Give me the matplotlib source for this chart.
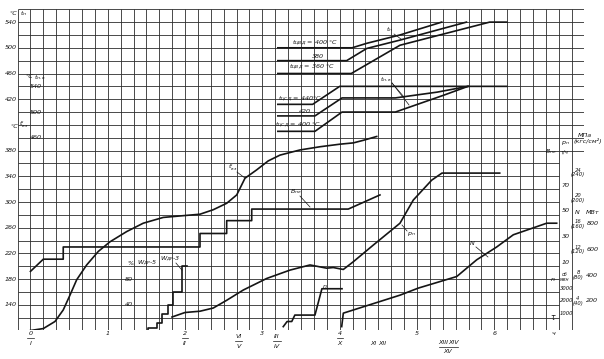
import matplotlib
matplotlib.use("Agg")
import matplotlib.pyplot as plt

plt.rcParams["font.family"] = ["DejaVu Sans"]
plt.rcParams["mathtext.fontset"] = "dejavusans"

# ---- values, time in hours ----
# t'вз, °C (main left scale)
tvz_h = [0, 0.166, 0.317, 0.424, 0.511, 0.598, 0.727, 0.877, 1.028, 1.245, 1.459,
         1.718, 2.193, 2.365, 2.538, 2.668, 2.775, 2.926, 3.076, 3.228, 3.486,
         3.745, 4.004, 4.176, 4.305, 4.479]
tvz = [100, 103, 114, 132, 155, 179, 202, 223, 238, 254, 267,
       276, 281, 288, 298, 311, 337, 350, 364, 373, 381,
       386, 390, 392, 396, 402]

# t_п, °C, for t_ЦВД = 400 / 380 / 360 °C
tp1_h = [3.20, 4.16, 4.35, 4.78, 5.32]
tp1 = [500, 500, 507, 520, 540]
tp2_h = [3.20, 4.09, 4.35, 4.78, 5.64]
tp2 = [480, 480, 499, 512, 540]
tp3_h = [3.20, 4.15, 4.78, 5.94, 6.16]
tp3 = [460, 460, 504, 540, 540]

# t_п.в, °C, for t_ЦСД = 440 / 420 / 400 °C
tpv1_h = [3.20, 3.65, 4.00, 6.16]
tpv1 = [512, 512, 540, 540]
tpv2_h = [3.20, 3.68, 4.03, 4.72, 5.26, 5.66]
tpv2 = [494, 494, 522, 522, 531, 540]
tpv3_h = [3.20, 3.68, 4.03, 4.72, 5.34, 5.66]
tpv3 = [470, 470, 500, 500, 526, 540]

# B_пе, t/h
bpe_h = [0, 0.166, 0.424, 0.424, 2.193, 2.193, 2.538, 2.538, 2.862, 2.862, 4.111, 4.521]
bpe = [3, 12.5, 12.5, 22, 22, 32.5, 32.5, 42.5, 42.5, 51.5, 51.5, 62.5]

# p_п, MPa
pp_h = [1.831, 1.999, 2.193, 2.365, 2.538, 2.753, 3.056, 3.357, 3.616, 3.703,
        3.832, 3.917, 4.047, 4.176, 4.435, 4.780, 4.952, 5.19, 5.323, 6.07]
pp = [1.5, 2.2, 2.4, 2.9, 4.1, 5.7, 7.5, 8.8, 9.6, 9.4,
      9.1, 9.2, 8.9, 10.1, 12.7, 16.1, 19.7, 22.8, 23.9, 23.9]

# N, MW
nw_h = [4.026, 4.047, 4.780, 5.017, 5.514, 5.772, 6.031, 6.246, 6.678, 6.807]
nw = [0, 105, 245, 300, 390, 520, 620, 715, 805, 805]

# n, rpm
rpm_h = [3.27, 3.32, 3.38, 3.42, 3.68, 3.77, 4.03]
rpm = [0, 400, 400, 900, 900, 2950, 2950]

# W_ДР, %
wdr_h = [1.524, 1.524, 1.633, 1.697, 1.783, 1.847, 1.956, 2.02]
wdr = [0, 4, 11, 26, 40, 60, 100, 100]

# axis tick labels
tvz_ticks = [140, 180, 220, 260, 300, 340, 380]
tp_ticks = [420, 460, 500, 540]
tpv_ticks = [460, 500, 540]
bpe_ticks = [10, 30, 50, 70]
pp_ticks = [4, 8, 12, 16, 20, 24]
nw_ticks = [200, 400, 600, 800]
rpm_ticks = [1000, 2000, 3000]
pct_ticks = [40, 80]
hours = [0, 1, 2, 3, 4, 5, 6]


# secondary scales mapped onto the main t'вз scale
def from_tp(v):
    return v + 40


def from_tpv(v):
    return v - 60


def from_bpe(v):
    return 186 + 2 * v


def from_pp(v):
    return 106 + 10 * v


def from_nw(v):
    return 106 + v / 5


def from_rpm(v):
    return 106 + v / 50


def from_pct(v):
    return 100 + v


fig = plt.figure(figsize=(6.04, 3.59), dpi=100)
ax = fig.add_axes([0.0291, 0.0794, 0.9386, 0.8948])
ax.set_xlim(-1 / 6, 43 / 6)
ax.set_ylim(100, 600)
ax.axis("off")

ink = "#151515"
gcol = "#2c2c2c"

# grid: 10 min x 20 °C
for k in range(-1, 44):
    ax.vlines(k / 6, 100, 600, color=gcol, lw=0.6)
for j in range(26):
    T = 100 + 20 * j
    ax.hlines(T, -1 / 6, 43 / 6 if T >= 380 else 41 / 6, color=gcol, lw=0.6)

lw = 1.2
ax.plot(tvz_h, tvz, color=ink, lw=lw)
for hh, vv in [(tp1_h, tp1), (tp2_h, tp2), (tp3_h, tp3)]:
    ax.plot(hh, [from_tp(v) for v in vv], color=ink, lw=lw)
for hh, vv in [(tpv1_h, tpv1), (tpv2_h, tpv2), (tpv3_h, tpv3)]:
    ax.plot(hh, [from_tpv(v) for v in vv], color=ink, lw=lw)
ax.plot(bpe_h, [from_bpe(v) for v in bpe], color=ink, lw=lw)
ax.plot(pp_h, [from_pp(v) for v in pp], color=ink, lw=lw)
ax.plot(nw_h, [from_nw(v) for v in nw], color=ink, lw=lw)
ax.plot(rpm_h, [from_rpm(v) for v in rpm], color=ink, lw=lw)
ax.step(wdr_h, [from_pct(v) for v in wdr], where="post", color=ink, lw=lw)

fs = 4.6
kw = dict(fontsize=fs, style="italic", color=ink, clip_on=False)

# left scales
for v in tvz_ticks:
    ax.text(-0.175, v, str(v), ha="right", va="center", **kw)
for v in tp_ticks:
    ax.text(-0.175, from_tp(v), str(v), ha="right", va="center", **kw)
for v in tpv_ticks:
    ax.text(0.15, from_tpv(v), str(v), ha="right", va="center", **kw)
ax.text(-0.22, 594, "°C", ha="center", va="center", **kw)
ax.text(-0.09, 594, "$t_п$", ha="center", va="center", **kw)
ax.text(-0.013, 495, "°C", ha="center", va="center", **kw)
ax.text(0.12, 493, "$t_{п.в}$", ha="center", va="center", **kw)
ax.text(-0.215, 417, "°C", ha="center", va="center", **kw)
ax.text(-0.085, 420, "$t^{\\prime}_{вз}$", ha="center", va="center", **kw)

# time axis
for hr in hours:
    ax.text(hr, 95.5, str(hr), ha="center", va="center", **kw)
for hr, rn in [(0, "I"), (2, "II"), (4, "X")]:
    ax.plot([hr - 0.04, hr + 0.04], [88, 88], color=ink, lw=0.5, clip_on=False)
    ax.text(hr, 80.5, rn, ha="center", va="center", **kw)
for hr, top, bot in [(2.69, "VI", "V"), (3.19, "III", "IV")]:
    ax.text(hr, 91, top, ha="center", va="center", **kw)
    ax.plot([hr - 0.05, hr + 0.05], [83, 83], color=ink, lw=0.5, clip_on=False)
    ax.text(hr, 75, bot, ha="center", va="center", **kw)
ax.text(4.43, 80.5, "XI", ha="center", va="center", **kw)
ax.text(4.55, 80.5, "XII", ha="center", va="center", **kw)
ax.text(5.34, 81, "XIII", ha="center", va="center", **kw)
ax.text(5.47, 81, "XIV", ha="center", va="center", **kw)
ax.plot([5.28, 5.53], [75, 75], color=ink, lw=0.5, clip_on=False)
ax.text(5.40, 68, "XV", ha="center", va="center", **kw)
ax.text(6.76, 96, "ч", ha="center", va="center", **kw)
ax.text(6.76, 119.5, "τ", ha="center", va="center", fontsize=5.5, style="italic", color=ink)

# right scales
for v in bpe_ticks:
    ax.text(6.87, from_bpe(v), str(v), ha="left", va="center", **kw)
for v in pp_ticks:
    ax.text(7.083, from_pp(v), "%d\n(%d)" % (v, v * 10), ha="center", va="center",
            linespacing=0.95, fontsize=3.8, style="italic", color=ink)
for v in nw_ticks:
    ax.text(7.19, from_nw(v), str(v), ha="left", va="center", **kw)
for v in rpm_ticks:
    ax.text(6.85, from_rpm(v), str(v), ha="left", va="center",
            fontsize=3.8, style="italic", color=ink)
ax.text(6.73, 378, "$B_{пе}$", ha="center", va="center", **kw)
ax.text(6.915, 378, "т/ч", ha="center", va="center", fontsize=3.8, style="italic", color=ink)
ax.text(6.915, 392, "$p_п$", ha="center", va="center", **kw)
ax.text(7.17, 403, "МПа", ha="center", va="center", **kw)
ax.text(7.21, 395, "(кгс/см²)", ha="center", va="center", **kw)
ax.text(7.07, 284, "N", ha="center", va="center", **kw)
ax.text(7.19, 284, "МВт", ha="left", va="center", **kw)
ax.text(6.76, 180, "n", ha="center", va="center", **kw)
ax.text(6.915, 183, "об\nмин", ha="center", va="center", linespacing=0.9,
        fontsize=3.3, style="italic", color=ink)

# % scale for W_ДР
for v in pct_ticks:
    ax.text(1.326, from_pct(v), str(v), ha="right", va="center", **kw)
ax.text(1.29, 205, "%", ha="center", va="center", **kw)
ax.text(1.378, 204, "$W_{ДР}$-5", ha="left", va="center", **kw)
ax.text(1.805, 211, "$W_{ДР}$-3", ha="center", va="center", **kw)
ax.plot([1.882, 1.96], [205, 194], color=ink, lw=0.5)

# curve labels
ax.text(2.61, 354, "$t^{\\prime}_{вз}$", ha="center", va="center", **kw)
ax.plot([2.672, 2.775], [346.6, 337.3], color=ink, lw=0.5)
ax.text(3.435, 315.5, "$B_{пе}$", ha="center", va="center", **kw)
ax.plot([3.486, 3.616], [309.3, 292.2], color=ink, lw=0.5)
ax.text(4.922, 250, "$p_п$", ha="center", va="center", **kw)
ax.plot([4.806, 4.871], [264.2, 254.9], color=ink, lw=0.5)
ax.text(5.711, 236, "N", ha="center", va="center", **kw)
ax.plot([5.763, 5.918], [230, 214.4], color=ink, lw=0.5)
ax.text(3.81, 169, "n", ha="center", va="center", **kw)
ax.text(4.65, 567.7, "$t_п$", ha="center", va="center", **kw)
ax.plot([4.703, 4.793], [561.5, 553.7], color=ink, lw=0.5)
ax.text(4.599, 491, "$t_{п.в}$", ha="center", va="center", **kw)
ax.plot([4.677, 4.832], [485.2, 463.4], color=ink, lw=0.5)
ax.plot([4.677, 4.897], [485.2, 451], color=ink, lw=0.5)

ax.text(3.68, 547.5, "$t_{ЦВД}$ = 400 °C", ha="center", va="center", **kw)
ax.text(3.72, 527, "380", ha="center", va="center", **kw)
ax.text(3.64, 510, "$t_{ЦВД}$ = 360 °C", ha="center", va="center", **kw)
ax.text(3.49, 460, "$t_{ЦСД}$ = 440°C", ha="center", va="center", **kw)
ax.text(3.55, 441.6, "420", ha="center", va="center", **kw)
ax.text(3.46, 420, "$t_{ЦСД}$ = 400 °C", ha="center", va="center", **kw)

fig.savefig("out.png", dpi=100, facecolor="white")
